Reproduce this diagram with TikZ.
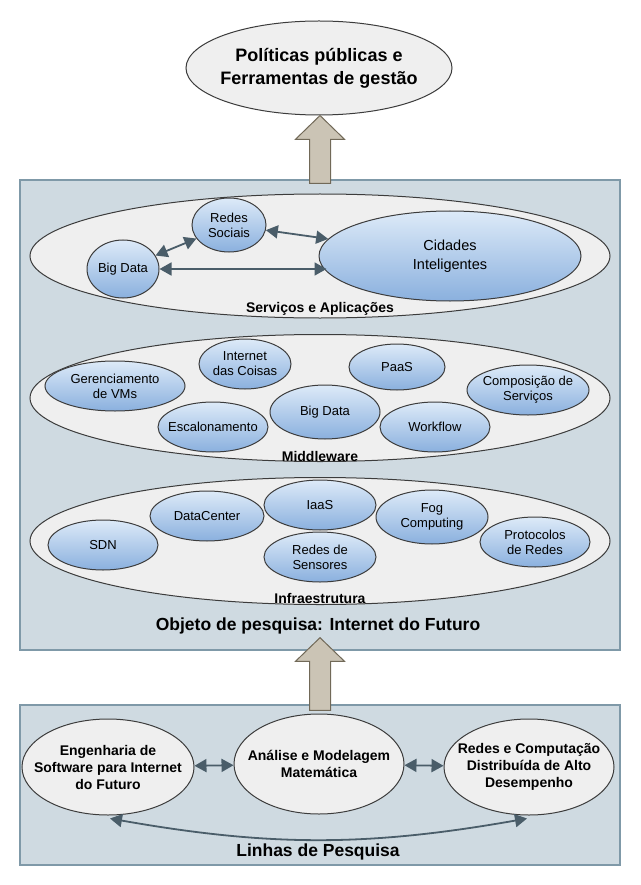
\documentclass[tikz,border=0pt]{standalone}
\usepackage{fontspec}
\setmainfont{Liberation Sans}
\usetikzlibrary{shapes.geometric, positioning, calc, arrows.meta}

\definecolor{boxfill}{HTML}{CFDAE1}
\definecolor{boxline}{HTML}{7F99A8}
\definecolor{layerfill}{HTML}{EFEFEF}
\definecolor{edgeline}{HTML}{3C3C3C}
\definecolor{bluetop}{HTML}{DDEAF8}
\definecolor{bluebot}{HTML}{8AB0DE}
\definecolor{linkcol}{HTML}{4A5D69}
\definecolor{bigfill}{HTML}{CBC4B5}
\definecolor{bigline}{HTML}{716958}

\tikzset{
  panel/.style={rectangle, draw=boxline, fill=boxfill, line width=1.4pt, inner sep=0pt},
  layer/.style={ellipse, draw=edgeline, fill=layerfill, line width=1pt, inner sep=0pt},
  topic/.style={ellipse, draw=edgeline, top color=bluetop, bottom color=bluebot, line width=1pt,
    inner xsep=-10pt, inner ysep=-2pt, align=center, font=\fontsize{13}{15}\selectfont},
  research/.style={ellipse, draw=edgeline, fill=layerfill, line width=1pt,
    inner xsep=-22pt, inner ysep=-4pt, align=center, font=\bfseries\fontsize{14}{17}\selectfont},
  link/.style={draw=linkcol, line width=1.8pt, {Triangle[length=12pt,width=13pt]}-{Triangle[length=12pt,width=13pt]}},
  bigarrow/.style={draw=bigline, fill=bigfill, line width=1pt, line join=miter},
  caption/.style={inner sep=0pt, font=\bfseries\fontsize{14}{16}\selectfont}
}

\begin{document}
\begin{tikzpicture}[x=1pt, y=-1pt]

    \useasboundingbox[fill=white] (0,0) rectangle (640,885);

    % --- Top goal ---
    \node[layer, inner xsep=-20pt, minimum width=266, minimum height=94, align=center,
          font=\bfseries\fontsize{18}{23}\selectfont] (politicas) at (319,68)
          {Políticas públicas e\\Ferramentas de gestão};

    % --- Main panel ---
    \node[panel, minimum width=600, minimum height=470] (objeto) at (320,415) {};

    % --- Layers ---
    \node[layer, minimum width=580, minimum height=124] (servicos) at (320,256) {};
    \node[layer, minimum width=580, minimum height=127] (middleware) at (320,398) {};
    \node[layer, minimum width=580, minimum height=127] (infra) at (320,541) {};

    \node[caption] (servicoslbl) at (320,309) {Serviços e Aplicações};
    \node[caption] (middlewarelbl) at (320,456) {Middleware};
    \node[caption] (infralbl) at (320,598) {Infraestrutura};

    % --- Servicos e Aplicacoes ---
    \node[topic, minimum width=74, minimum height=54] (redessociais) at (229,225) {Redes\\Sociais};
    \node[topic, minimum width=72, minimum height=58] (bigdataA) at (123,269) {Big Data};
    \node[topic, minimum width=262, minimum height=90, font=\fontsize{14.5}{19}\selectfont] (cidades) at (450,256) {Cidades\\Inteligentes};

    \draw[link] (bigdataA) -- (redessociais);
    \draw[link] (redessociais) -- (cidades);
    \draw[link] (bigdataA.east) -- ($(bigdataA.east -| cidades.west)+(8,0)$);

    % --- Middleware ---
    \node[topic, minimum width=140, minimum height=50] (gerenciamento) at (115,386) {Gerenciamento\\de VMs};
    \node[topic, minimum width=92, minimum height=50] (iot) at (245,364) {Internet\\das Coisas};
    \node[topic, minimum width=96, minimum height=46] (paas) at (397,367) {PaaS};
    \node[topic, minimum width=122, minimum height=50] (composicao) at (528,390) {Composição de\\Serviços};
    \node[topic, minimum width=110, minimum height=50] (escalonamento) at (213,427) {Escalonamento};
    \node[topic, minimum width=110, minimum height=54] (bigdataB) at (325,412) {Big Data};
    \node[topic, minimum width=110, minimum height=50] (workflow) at (435,427) {Workflow};

    % --- Infraestrutura ---
    \node[topic, minimum width=110, minimum height=50] (sdn) at (103,545) {SDN};
    \node[topic, minimum width=114, minimum height=50] (datacenter) at (207,516) {DataCenter};
    \node[topic, minimum width=112, minimum height=50] (iaas) at (320,505) {IaaS};
    \node[topic, minimum width=112, minimum height=54] (fog) at (432,517) {Fog\\Computing};
    \node[topic, minimum width=110, minimum height=50] (protocolos) at (535,542) {Protocolos\\de Redes};
    \node[topic, minimum width=112, minimum height=50] (sensores) at (320,557) {Redes de\\Sensores};

    \node[inner sep=0pt, font=\bfseries\fontsize{17.5}{20}\selectfont] (objetolbl) at (318,626)
          {Objeto de pesquisa: Internet do Futuro};

    % --- Lower panel ---
    \node[panel, minimum width=600, minimum height=160] (linhas) at (320,785) {};

    \node[research, minimum width=172, minimum height=96] (engenharia) at (108,767)
          {Engenharia de\\Software para Internet\\do Futuro};
    \node[research, minimum width=170, minimum height=100] (analise) at (319,764)
          {Análise e Modelagem\\Matemática};
    \node[research, minimum width=170, minimum height=96] (redescomp) at (529,767)
          {Redes e Computação\\Distribuída de Alto\\Desempenho};

    \draw[link] (engenharia) -- (analise);
    \draw[link] (analise) -- (redescomp);
    \draw[link] ($(engenharia.south)+(2,3)$) to[bend right=10] ($(redescomp.south)+(-2,3)$);

    \node[inner sep=0pt, font=\bfseries\fontsize{17.5}{20}\selectfont] (linhaslbl) at (318,852)
          {Linhas de Pesquisa};

    % --- Big arrows between panels ---
    \draw[bigarrow] ($(objeto.north)+(-10.5,4)$) -- ++(0,-44) -- ++(-14,0)
          -- (objeto.north |- politicas.south) -- ($(objeto.north)+(24.5,-40)$)
          -- ++(-14,0) -- ++(0,44) -- cycle;
    \draw[bigarrow] ($(linhas.north)+(-10.5,6)$) -- ++(0,-49) -- ++(-14,0)
          -- ($(objeto.south)+(0,-13)$) -- ($(linhas.north)+(24.5,-43)$)
          -- ++(-14,0) -- ++(0,49) -- cycle;

\end{tikzpicture}
\end{document}
